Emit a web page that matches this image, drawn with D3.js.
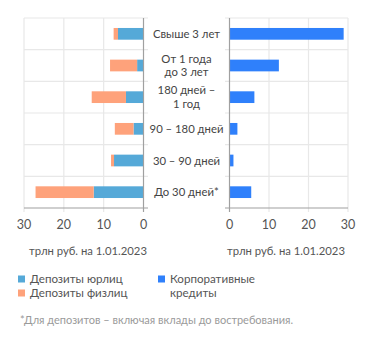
<!DOCTYPE html>
<html><head><meta charset="utf-8">
<script src="https://cdn.jsdelivr.net/npm/d3@7"></script>
<style>
html,body{margin:0;padding:0;background:#fff;}
svg{display:block;font-family:Lato,"Open Sans",sans-serif;}
</style></head>
<body><svg id="c" width="371" height="342"></svg>
<script>
const categories = [["Свыше 3 лет"], ["От 1 года", "до 3 лет"], ["180 дней –", "1 год"], ["90 – 180 дней"], ["30 – 90 дней"], ["До 30 дней*"]];
const depositsCorp = [6.4, 1.6, 4.4, 2.5, 7.4, 12.5];
const depositsRetail = [1.1, 6.8, 8.6, 4.7, 0.75, 14.6];
const corpLoans = [28.9, 12.5, 6.3, 2.0, 1.0, 5.5];
const xTicks = [0, 10, 20, 30];
const axisTitle = "трлн руб. на 1.01.2023";
const legendItems = [["Депозиты юрлиц"], ["Депозиты физлиц"], ["Корпоративные", "кредиты"]];
const footnote = "*Для депозитов – включая вклады до востребования.";

const C_CORP = "#55a9d8", C_RET = "#fea27b", C_LOAN = "#2f80fb";
const svg = d3.select("#c");
const plotTop = 18, plotBottom = 208;
const y = d3.scaleBand().domain(d3.range(categories.length)).range([plotTop, plotBottom]).paddingInner(0.63).paddingOuter(0.315);
const xl = d3.scaleLinear().domain([0, 30]).range([143.5, 24]);
const xr = d3.scaleLinear().domain([0, 30]).range([229.5, 348]);
const grid = "#e8e8e8", axisC = "#a0a0a0";

function panel(x, ext) {
  const g = svg.append("g");
  // vertical grid
  xTicks.forEach(t => {
    if (t === 0) return;
    g.append("line").attr("x1", x(t)).attr("x2", x(t)).attr("y1", plotTop).attr("y2", plotBottom + 4)
      .attr("stroke", grid).attr("stroke-width", 1.2);
  });
  // horizontal band separators
  d3.range(categories.length).forEach(i => {
    const yy = y(i) - y.step() * y.paddingInner() / 2;
    g.append("line").attr("x1", ext[0]).attr("x2", ext[1]).attr("y1", yy).attr("y2", yy)
      .attr("stroke", grid).attr("stroke-width", 1.2);
  });
  return g;
}
const gl = panel(xl, [24, 148]);
const gr = panel(xr, [225, 348]);

// stacked deposit bars (left) and loan bars (right)
categories.forEach((c, i) => {
  gl.append("rect").attr("x", xl(depositsCorp[i])).attr("width", xl(0) - xl(depositsCorp[i]))
    .attr("y", y(i)).attr("height", y.bandwidth()).attr("fill", C_CORP);
  const tot = depositsCorp[i] + depositsRetail[i];
  gl.append("rect").attr("x", xl(tot)).attr("width", xl(depositsCorp[i]) - xl(tot))
    .attr("y", y(i)).attr("height", y.bandwidth()).attr("fill", C_RET);
  gr.append("rect").attr("x", xr(0)).attr("width", xr(corpLoans[i]) - xr(0))
    .attr("y", y(i)).attr("height", y.bandwidth()).attr("fill", C_LOAN);
});

// axis lines
gl.append("line").attr("x1", xl(0)).attr("x2", xl(0)).attr("y1", plotTop).attr("y2", plotBottom + 4).attr("stroke", axisC).attr("stroke-width", 1.2);
gl.append("line").attr("x1", 24).attr("x2", 148).attr("y1", plotBottom).attr("y2", plotBottom).attr("stroke", axisC).attr("stroke-width", 1.2);
gr.append("line").attr("x1", xr(0)).attr("x2", xr(0)).attr("y1", plotTop).attr("y2", plotBottom + 4).attr("stroke", axisC).attr("stroke-width", 1.2);
gr.append("line").attr("x1", 225).attr("x2", 348).attr("y1", plotBottom).attr("y2", plotBottom).attr("stroke", axisC).attr("stroke-width", 1.2);

// tick labels
[xl, xr].forEach(x => {
  xTicks.forEach(t => {
    svg.append("text").attr("x", x(t)).attr("y", 229).attr("text-anchor", "middle")
      .attr("font-size", 12.5).attr("fill", "#555").text(t);
  });
});
svg.append("text").attr("x", 88).attr("y", 255).attr("text-anchor", "middle").attr("font-size", 11.3).attr("fill", "#555").text(axisTitle);
svg.append("text").attr("x", 286).attr("y", 255).attr("text-anchor", "middle").attr("font-size", 11.3).attr("fill", "#555").text(axisTitle);

// category labels, one text per line
categories.forEach((lines, i) => {
  const cy = y(i) + y.bandwidth() / 2;
  const lh = 13.7;
  lines.forEach((l, j) => {
    svg.append("text").attr("text-anchor", "middle").attr("font-size", 11.3).attr("fill", "#444")
      .attr("x", 186.5).attr("y", cy + (j - (lines.length - 1) / 2) * lh + 4).text(l);
  });
});

// legend
const leg = [[18, 279, C_CORP], [18, 293, C_RET], [158, 279, C_LOAN]];
legendItems.forEach((lines, i) => {
  const [lx, ly, col] = leg[i];
  svg.append("rect").attr("x", lx).attr("y", ly - 3.5).attr("width", 7).attr("height", 7).attr("fill", col);
  lines.forEach((l, j) => svg.append("text").attr("font-size", 11.6).attr("fill", "#555")
    .attr("x", lx + 12).attr("y", ly + 4.2 + j * 14).text(l));
});
svg.append("text").attr("x", 20).attr("y", 324).attr("font-size", 11).attr("fill", "#9a9a9a").text(footnote);
</script></body></html>
